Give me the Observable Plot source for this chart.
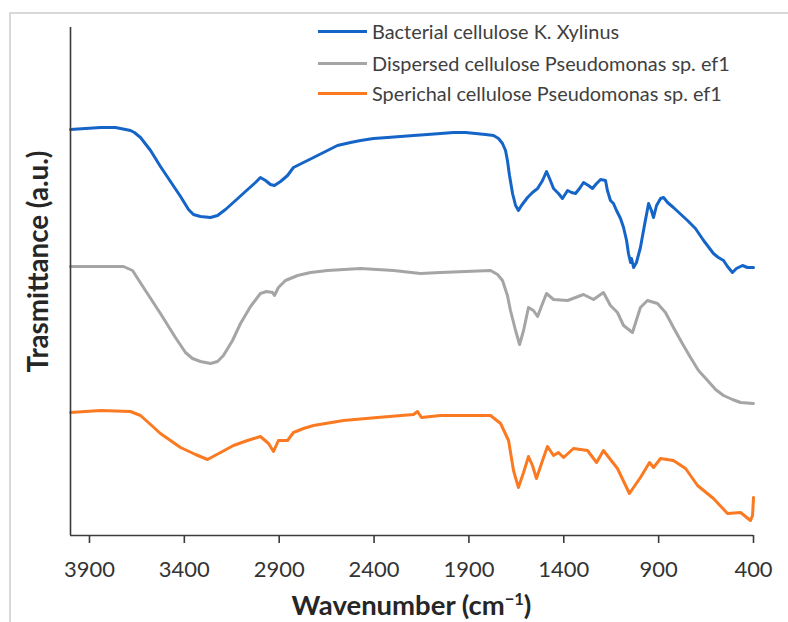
<!DOCTYPE html>
<html><head><meta charset="utf-8">
<script src="https://cdn.jsdelivr.net/npm/d3@7"></script>
<script src="https://cdn.jsdelivr.net/npm/@observablehq/plot@0.6"></script>
<style>
body{margin:0;background:#fff;}
#wrap{position:relative;width:788px;height:622px;overflow:hidden;font-family:Lato,"Noto Sans",sans-serif;color:#404040;}
#border{position:absolute;left:9px;top:12px;width:900px;height:900px;border:2px solid #d9d9d9;box-sizing:border-box;}
#chart{position:relative;}
#legend{position:absolute;left:318px;top:0;width:470px;height:110px;}
.row{position:absolute;left:0;display:flex;align-items:center;height:30px;white-space:nowrap;}
.sw{width:49px;height:3px;margin-right:5px;flex:none;}
#xtitle{position:relative;width:683px;padding-left:70px;text-align:center;font-weight:bold;line-height:34px;color:#262626;}
#xtitle sup{font-size:0.6em;line-height:0;}
</style></head>
<body>
<div id="wrap">
<div id="border"></div>
<div id="chart"></div>
<div id="xtitle">Wavenumber (cm<sup>−1</sup>)</div>
<div id="legend"></div>
</div>
<script>
const seriesNames = ["Bacterial cellulose K. Xylinus","Dispersed cellulose Pseudomonas sp. ef1","Sperichal cellulose Pseudomonas sp. ef1"];
const seriesColors = ["#1565c8","#a5a5a5","#fb7a21"];
const xTicks = [3900,3400,2900,2400,1900,1400,900,400];
const xDomain = [4000,400];
const yDomain = [0,508];
const yTitle = "Trasmittance (a.u.)";

const wnBlue = [4000,3921,3842,3763,3710,3684,3663,3631,3578,3526,3473,3420,3378,3352,3315,3262,3225,3183,3130,3078,3025,2999,2972,2946,2925,2893,2856,2825,2772,2719,2656,2593,2524,2471,2403,2329,2261,2192,2118,2050,1981,1918,1865,1813,1770,1744,1723,1707,1697,1686,1670,1654,1639,1623,1591,1565,1538,1512,1491,1475,1454,1428,1407,1380,1359,1338,1317,1296,1270,1249,1227,1206,1180,1170,1154,1138,1122,1101,1085,1069,1059,1048,1043,1032,1017,996,975,953,938,927,911,890,874,853,822,748,706,663,611,585,558,537,511,490,458,432,400];
const tBlue = [406,407,408,408,406,405,403,398,385,369,354,339,326,321,319,318,320,326,335,344,353,358,355,351,350,354,360,368,373,378,384,390,393,395,397,398,399,400,401,402,403,403,402,401,400,397,392,385,375,360,342,330,325,330,338,343,347,355,364,357,347,342,337,345,343,342,347,353,350,347,352,356,355,345,335,332,325,317,308,295,282,273,277,268,273,288,310,332,325,318,330,337,338,333,328,315,307,295,282,278,275,269,263,267,270,268,268];

const wnGray = [4000,3842,3721,3673,3605,3526,3447,3394,3357,3315,3262,3225,3194,3146,3104,3051,2999,2967,2935,2925,2904,2867,2803,2735,2645,2471,2297,2155,2050,1786,1749,1723,1697,1681,1654,1633,1612,1586,1560,1538,1512,1491,1454,1380,1296,1243,1191,1154,1117,1085,1038,996,959,906,864,822,775,732,690,642,600,558,511,468,400];
const tGray = [269,269,269,265,245,222,198,183,177,174,172,174,180,195,212,229,242,244,243,240,248,255,260,263,265,267,265,262,263,265,261,255,240,225,205,191,205,228,225,219,232,242,236,235,241,236,243,230,223,210,203,228,235,232,223,208,192,178,165,155,146,140,136,133,132];

const wnOrange = [4000,3842,3684,3631,3578,3526,3473,3420,3341,3278,3209,3141,3067,2999,2956,2930,2904,2856,2825,2772,2719,2561,2382,2192,2171,2150,2050,1786,1733,1691,1665,1639,1612,1586,1565,1544,1512,1486,1454,1428,1401,1349,1275,1227,1191,1117,1054,996,948,927,890,822,758,695,611,537,468,416,405,400];
const tOrange = [123,125,124,120,111,102,95,88,81,76,83,90,95,99,92,84,95,95,103,107,110,115,118,121,124,118,120,120,112,95,65,48,63,79,70,57,75,89,80,83,78,87,85,73,85,67,42,58,73,68,77,75,67,50,37,22,23,15,20,38];

// font sizes fitted to the widths measured on the reference
const FAM = 'Lato, "Noto Sans", sans-serif';
const ctx = document.createElement("canvas").getContext("2d");
function w100(txt, weight){ ctx.font = `${weight} 100px ${FAM}`; return ctx.measureText(txt).width; }
const clamp = (v,a,b)=>Math.max(a,Math.min(b,v));
const legendSize = clamp(358*100/w100(seriesNames[1],"normal"), 16, 22);
const tickSize = clamp(51*100/w100("3900","normal"), 19, 25);
const yTitleSize = clamp(222*100/w100(yTitle,"bold"), 20, 28);
const xTitleSize = clamp(240*100/(w100("Wavenumber (cm)","bold") + 0.6*w100("−1","bold")), 20, 28);

const data = [];
[[wnBlue,tBlue],[wnGray,tGray],[wnOrange,tOrange]].forEach(([w,t],i)=>{
  w.forEach((x,j)=>data.push({series:seriesNames[i], wn:x, t:t[j]}));
});

const plot = Plot.plot({
  width:788, height:588,
  marginLeft:70, marginRight:35, marginTop:27, marginBottom:53,
  style:{fontFamily:FAM, background:"transparent", overflow:"visible"},
  x:{domain:xDomain},
  y:{domain:yDomain},
  color:{domain:seriesNames, range:seriesColors},
  marks:[
    Plot.line(data,{x:"wn", y:"t", z:"series", stroke:"series", strokeWidth:3, strokeLinejoin:"round", strokeLinecap:"round"}),
    Plot.ruleX([xDomain[0]],{stroke:"#3a3a3a", strokeWidth:1.6}),
    Plot.ruleY([yDomain[0]],{stroke:"#3a3a3a", strokeWidth:1.6}),
    Plot.axisX({ticks:xTicks, tickSize:8, tickPadding:18, tickFormat:d=>String(d), fontSize:tickSize, label:null, stroke:"#3a3a3a", strokeWidth:1.6, fill:"#333"}),
    Plot.axisY({ticks:[], label:null}),
    Plot.text([yTitle],{frameAnchor:"left", textAnchor:"middle", rotate:-90, dx:-31, dy:-20, fontSize:yTitleSize, fontWeight:"bold", fill:"#262626", text:d=>d})
  ]
});
document.getElementById("chart").appendChild(plot);
document.getElementById("xtitle").style.fontSize = xTitleSize + "px";

const leg = document.getElementById("legend");
const rowY = [31,63,93];
seriesNames.forEach((n,i)=>{
  const r = document.createElement("div");
  r.className="row"; r.style.top=(rowY[i]-15)+"px"; r.style.fontSize = legendSize+"px";
  const s = document.createElement("div"); s.className="sw"; s.style.background=seriesColors[i];
  const t = document.createElement("span"); t.textContent=n;
  r.appendChild(s); r.appendChild(t); leg.appendChild(r);
});
</script>
</body></html>
